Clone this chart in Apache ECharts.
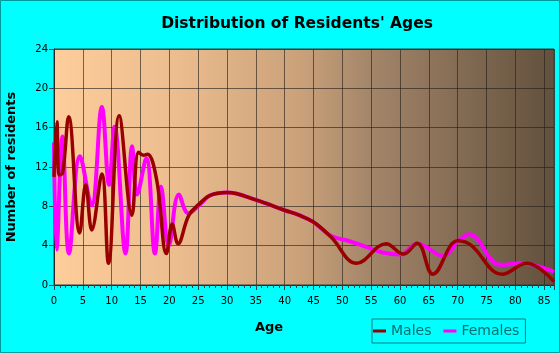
<!DOCTYPE html>
<html>
<head>
<meta charset="utf-8">
<script src="https://cdn.jsdelivr.net/npm/echarts@6/dist/echarts.min.js"></script>
<style>
html,body{margin:0;padding:0;background:#00FFFF;}
#c{width:560px;height:353px;}
</style>
</head>
<body>
<div id="c"></div>
<script>
// ---- data ----
var titleText = "Distribution of Residents' Ages";
var xAxisName = "Age";
var yAxisName = "Number of residents";
var seriesNames = ["Males", "Females"];

var maleAges = [0, 0.5, 0.9, 1.5, 2.55, 4.45, 5.5, 6.55, 8.3, 9.45, 11.3, 13.5, 14.65, 15.5, 16.2, 17.8, 19.5, 20.5, 21.5, 23.4, 25.3, 27, 30, 35, 40, 42.5, 45, 48, 52.5, 57.6, 60.6, 63, 65.7, 70, 72.2, 77.7, 82, 86.7];
var maleVals = [11.0, 16.6, 11.2, 11.4, 17.1, 5.3, 10.2, 5.6, 11.3, 2.2, 17.2, 7.1, 13.5, 13.2, 13.3, 10.7, 3.2, 6.2, 4.2, 7.1, 8.3, 9.1, 9.4, 8.65, 7.6, 7.1, 6.4, 4.9, 2.2, 4.2, 3.15, 4.25, 1.1, 4.5, 4.1, 1.1, 2.2, 0.35];

var femaleAges = [0, 0.45, 1.45, 2.6, 4.5, 6.5, 8.3, 9.55, 10.5, 12.4, 13.55, 14.4, 16, 17.5, 18.55, 19.9, 21.65, 23.3, 25.5, 27, 30, 35, 40, 42.5, 45, 48, 51, 54, 57, 60, 63, 67.5, 70, 72, 77.4, 81, 86.7];
var femaleVals = [14.5, 3.6, 15.1, 3.2, 13.1, 8.1, 18.1, 10.2, 16.1, 3.2, 14.1, 9.2, 12.9, 3.2, 10.0, 4.0, 9.2, 7.3, 8.3, 9.1, 9.4, 8.65, 7.6, 7.1, 6.4, 5.0, 4.5, 3.9, 3.3, 3.1, 4.2, 2.95, 4.4, 5.15, 2.05, 2.2, 1.35];

var xMin = 0, xMax = 86.7, xStep = 5;
var yMin = 0, yMax = 24, yStep = 4;

function pairs(xs, ys) { return xs.map(function (x, i) { return [x, ys[i]]; }); }

var chart = echarts.init(document.getElementById('c'), null, {renderer: 'canvas'});
var grid = {left: 54, top: 49, right: 6, bottom: 68};

chart.setOption({
  backgroundColor: '#00FFFF',
  animation: false,
  title: {
    text: titleText,
    left: 292, top: 11, textAlign: 'center',
    textStyle: {fontFamily: 'DejaVu Sans', fontWeight: 'bold', fontSize: 15.5, color: '#000'}
  },
  legend: {
    data: seriesNames,
    left: 372, top: 319,
    orient: 'horizontal',
    icon: 'rect', itemWidth: 13, itemHeight: 3, itemGap: 12,
    padding: [5, 6, 5, 1],
    borderColor: '#008080', borderWidth: 1,
    textStyle: {fontFamily: 'DejaVu Sans', fontSize: 14, color: '#006F6F'}
  },
  grid: {
    left: grid.left, top: grid.top, right: grid.right, bottom: grid.bottom,
    show: true, borderColor: '#3a3a3a', borderWidth: 1,
    backgroundColor: {
      type: 'linear', x: 0, y: 0, x2: 1, y2: 0,
      colorStops: [
        {offset: 0, color: '#FECD9B'},
        {offset: 0.25, color: '#EBBC8E'},
        {offset: 0.5, color: '#C9A079'},
        {offset: 0.63, color: '#A4866A'},
        {offset: 1, color: '#62503D'}
      ]
    }
  },
  xAxis: {
    type: 'value', min: xMin, max: xMax, interval: xStep,
    axisLine: {show: true, onZero: false, lineStyle: {color: '#2a2a2a', width: 1}},
    axisTick: {show: true, length: 5, lineStyle: {color: '#2a4a4a'}},
    minorTick: {show: true, splitNumber: 5, length: 3, lineStyle: {color: '#2a4a4a'}},
    splitLine: {show: true, lineStyle: {color: 'rgba(35,30,25,0.62)', width: 1}},
    axisLabel: {
      margin: 11, color: '#000', fontFamily: 'DejaVu Sans', fontSize: 10,
      formatter: function (v) { return (Math.abs(v % xStep) < 1e-9) ? String(v) : ''; }
    }
  },
  yAxis: {
    type: 'value', min: yMin, max: yMax, interval: yStep,
    axisLine: {show: true, lineStyle: {color: '#2a2a2a', width: 1}},
    axisTick: {show: true, length: 5, lineStyle: {color: '#2a4a4a'}},
    splitLine: {show: true, lineStyle: {color: 'rgba(35,30,25,0.62)', width: 1}},
    axisLabel: {margin: 6, color: '#000', fontFamily: 'DejaVu Sans', fontSize: 10}
  },
  graphic: [
    {type: 'rect', shape: {x: 0.5, y: 0.5, width: 559, height: 352}, style: {fill: 'none', stroke: '#009A9A', lineWidth: 1}, silent: true},
    {type: 'text', x: 269, y: 328, style: {text: xAxisName, font: 'bold 13px "DejaVu Sans"', fill: '#000', textAlign: 'center', textVerticalAlign: 'middle'}},
    {type: 'text', x: 12, y: 167, rotation: Math.PI / 2, style: {text: yAxisName, font: 'bold 13px "DejaVu Sans"', fill: '#000', textAlign: 'center', textVerticalAlign: 'middle'}}
  ],
  series: [
    {
      name: seriesNames[1], type: 'line', data: pairs(femaleAges, femaleVals),
      smooth: 0.4, symbol: 'none', clip: true,
      lineStyle: {color: '#FF00FF', width: 4}, itemStyle: {color: '#FF00FF'}, z: 2
    },
    {
      name: seriesNames[0], type: 'line', data: pairs(maleAges, maleVals),
      smooth: 0.4, symbol: 'none', clip: true,
      lineStyle: {color: '#990000', width: 3.5}, itemStyle: {color: '#990000'}, z: 3
    }
  ]
});
</script>
</body>
</html>
